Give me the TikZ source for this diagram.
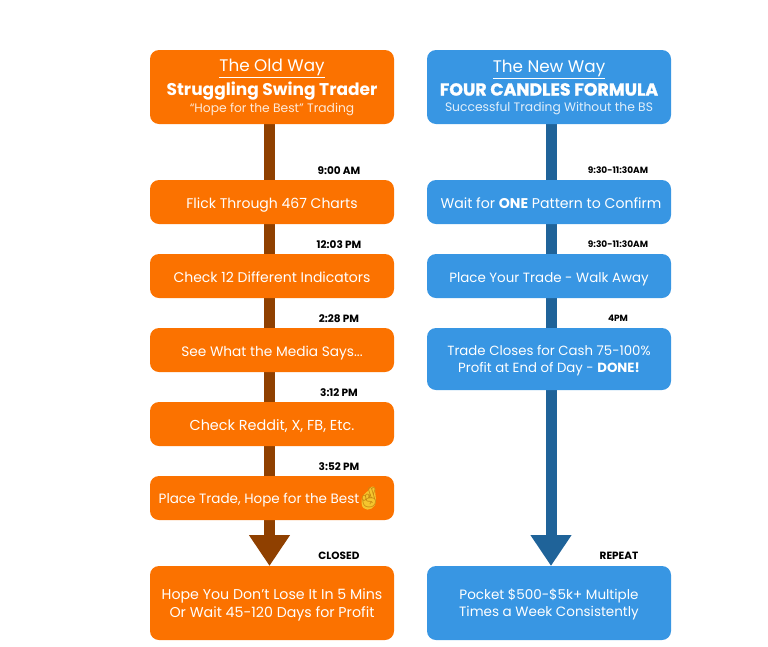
\documentclass[tikz,border=0pt]{standalone}
\usepackage{fontspec}
\setmainfont{Poppins}
\newfontfamily\emojifont{Noto Emoji}
\usetikzlibrary{arrows.meta}
\definecolor{oldfill}{HTML}{FB7200}
\definecolor{oldstem}{HTML}{8F4000}
\definecolor{newfill}{HTML}{3896E3}
\definecolor{newstem}{HTML}{1F6399}
\definecolor{fingers}{HTML}{F5C52E}
\definecolor{fingerline}{HTML}{C98A12}
\newcommand{\fsz}[1]{\fontsize{#1}{#1}\selectfont}
\tikzset{
	stepbox/.style={rectangle, rounded corners=9pt, text=white, minimum width=244pt, inner sep=0pt, align=center, text depth=0pt, font=\fsz{14}},
	oldbox/.style={stepbox, fill=oldfill},
	newbox/.style={stepbox, fill=newfill},
	oneline/.style={minimum height=44pt, text height=12.5pt},
	headbox/.style={minimum height=74pt, text depth=2pt},
	timelabel/.style={font=\fsz{10.5}\bfseries, text=black, inner sep=0pt},
	oldline/.style={line width=11.5pt, draw=oldstem},
	newline/.style={line width=11pt, draw=newstem},
	bighead/.style={-{Triangle[width=39pt,length=31pt]}, shorten >=0pt}
}

\begin{document}
\begin{tikzpicture}[x=1pt, y=-1pt]
	%%%%% START %%%%%
	\useasboundingbox (0, 0) rectangle (768, 646);
	
	% stems go first, the boxes sit on top
	\coordinate (oldtop) at (269.5, 100);
	\coordinate (oldend) at (269.5, 566);
	\coordinate (newtop) at (551, 100);
	\coordinate (newend) at (551, 566);
	\draw[oldline, bighead] (oldtop) -- (oldend);
	\draw[newline, bighead] (newtop) -- (newend);
	
	% left column
	\node[oldbox, headbox] (oldhead) at (272, 87) {{\fsz{16.8}\underline{The Old Way}}\\[3pt]{\fsz{17}\bfseries Struggling Swing Trader}\\[2pt]{\fsz{12.3}\color{white!85!oldfill}“Hope for the Best” Trading}};
	\node[oldbox, oneline] (flick) at (272, 202) {Flick Through 467 Charts};
	\node[oldbox, oneline] (indicators) at (272, 276) {Check 12 Different Indicators};
	\node[oldbox, oneline, font=\fsz{13.7}] (media) at (272, 350) {See What the Media Says...};
	\node[oldbox, oneline, font=\fsz{14.4}] (reddit) at (272, 424) {Check Reddit, X, FB, Etc.};
	\node[oldbox, minimum height=44pt] (place) at (272, 498) {};
	\node[font=\fsz{13.5}, text=white, inner sep=0pt, text depth=0pt] (placetext) at (259, 498) {Place Trade, Hope for the Best};
	\fill[fingers] (361.5, 503) .. controls (361, 495) and (366, 493) .. (369, 490) .. controls (370, 486) and (375, 485) .. (375, 489) .. controls (375, 495) and (377, 500) .. (375, 505) .. controls (372, 511) and (362, 512) .. (361.5, 503);
	\node[font=\fsz{20}\emojifont, text=fingerline, inner sep=0pt] (crossed) at (369, 498) {🤞};
	\node[oldbox, minimum height=74pt, font=\fsz{14.2}] (lose) at (272, 603) {Hope You Don’t Lose It In 5 Mins\\[2pt]Or Wait 45-120 Days for Profit};
	
	% right column
	\node[newbox, headbox] (newhead) at (549, 87) {{\fsz{16.8}\underline{The New Way}}\\[3pt]{\fsz{17.4}\bfseries\addfontfeature{FakeBold=1.2} FOUR CANDLES FORMULA}\\[2pt]{\fsz{12.3}\color{white!85!newfill}Successful Trading Without the BS}};
	\node[newbox, oneline, font=\fsz{14.1}] (wait) at (549, 202) {\hspace*{4pt}Wait for \textbf{ONE} Pattern to Confirm};
	\node[newbox, oneline, font=\fsz{13.4}] (walk) at (549, 276) {Place Your Trade - Walk Away};
	\node[newbox, minimum height=62pt, font=\fsz{13.3}] (closes) at (549, 359) {Trade Closes for Cash 75-100\%\\[3.5pt]Profit at End of Day - \textbf{DONE!}};
	\node[newbox, minimum height=74pt, font=\fsz{13.5}] (pocket) at (549, 603) {Pocket \$500-\$5k+ Multiple\\[2.5pt]Times a Week Consistently};
	
	% times
	\node[timelabel] (t1) at (339, 171) {9:00 AM};
	\node[timelabel] (t2) at (339, 245) {12:03 PM};
	\node[timelabel] (t3) at (339, 319) {2:28 PM};
	\node[timelabel] (t4) at (339, 393) {3:12 PM};
	\node[timelabel] (t5) at (339, 467) {3:52 PM};
	\node[timelabel] (t6) at (339, 556) {CLOSED};
	\node[timelabel, font=\fsz{9}\bfseries] (n1) at (618, 170) {9:30-11:30AM};
	\node[timelabel, font=\fsz{9}\bfseries] (n2) at (618, 244) {9:30-11:30AM};
	\node[timelabel, font=\fsz{9}\bfseries] (n3) at (618, 318) {4PM};
	\node[timelabel] (n4) at (619, 556) {REPEAT};
	%%%%% END %%%%%
\end{tikzpicture}
\end{document}
